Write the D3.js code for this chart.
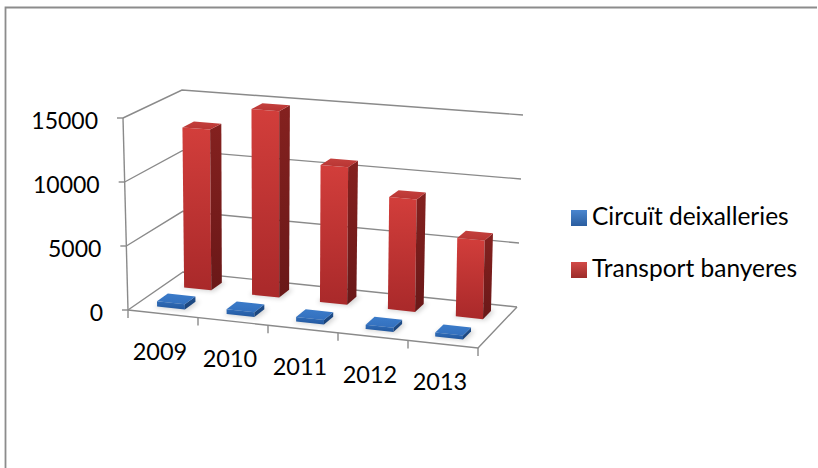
<!DOCTYPE html>
<html>
<head>
<meta charset="utf-8">
<script src="https://cdn.jsdelivr.net/npm/d3@7"></script>
<style>
  html, body { margin: 0; padding: 0; background: #fff; }
  svg { display: block; }
  text { font-family: Lato, "Open Sans", sans-serif; fill: #000; }
</style>
</head>
<body>
<svg id="chart" width="818" height="468"></svg>
<script>
// ---- data ----
const categories = ["2009", "2010", "2011", "2012", "2013"];
const seriesNames = ["Circuït deixalleries", "Transport banyeres"];
const circuitValues = [420, 380, 350, 330, 300];
const transportValues = [12900, 14800, 10800, 8750, 6050];
const yTickValues = [0, 5000, 10000, 15000];

// ---- layout (3D box corners on screen) ----
const floorC = { FL: [128, 310], BL: [183, 272], BR: [517, 307], FR: [478, 348] };
const heightV = { FL: [-5, -192], BL: [-1, -182], BR: [6, -192], FR: [2, -202] };

function bil(q, u, w) {
  const f = (k) => (1 - u) * (1 - w) * q.FL[k] + u * (1 - w) * q.FR[k] + (1 - u) * w * q.BL[k] + u * w * q.BR[k];
  return [f(0), f(1)];
}
function P(u, w, v) {
  const b = bil(floorC, u, w), h = bil(heightV, u, w);
  return [b[0] + v * h[0], b[1] + v * h[1]];
}

const x = d3.scaleBand().domain(categories).range([0, 1]).paddingInner(0.6).paddingOuter(0.3);
const z = d3.scaleBand().domain(seriesNames).range([0, 1]).paddingInner(0.6).paddingOuter(0.3);
const y = d3.scaleLinear().domain([0, 15000]).range([0, 1]);

const svg = d3.select("#chart");
const defs = svg.append("defs");

function grad(id, c1, c2) {
  const g = defs.append("linearGradient").attr("id", id).attr("x1", 0).attr("y1", 0).attr("x2", 0).attr("y2", 1);
  g.append("stop").attr("offset", "0%").attr("stop-color", c1);
  g.append("stop").attr("offset", "100%").attr("stop-color", c2);
}
grad("redFront", "#d23e3b", "#a9292a");
grad("redSide", "#84211f", "#6a1818");
grad("redTop", "#c4403d", "#b83533");
grad("blueFront", "#2f6cb8", "#23589e");
grad("blueSide", "#1f4f8c", "#1a4278");
grad("blueTop", "#3b7bc9", "#3370be");
grad("legBlue", "#4a86cf", "#2a5d9f");
grad("legRed", "#d24a47", "#9c2b29");

const blur = defs.append("filter").attr("id", "shadow").attr("x", "-50%").attr("y", "-50%").attr("width", "200%").attr("height", "200%");
blur.append("feGaussianBlur").attr("stdDeviation", 2.5);

// frame
svg.append("path").attr("d", "M5.5,468 V7.5 H817").attr("fill", "none").attr("stroke", "#8c8c8c").attr("stroke-width", 1.8);

const line = d3.line();
const gridColor = "#8a8a8a";

// gridlines: side wall + back wall
svg.append("g").selectAll("path").data(yTickValues).join("path")
  .attr("d", t => line([P(0, 0, y(t)), P(0, 1, y(t)), P(1, 1, y(t))]))
  .attr("fill", "none").attr("stroke", gridColor).attr("stroke-width", 1.4);

// floor front and right edge
svg.append("path").attr("d", line([P(0, 0, 0), P(1, 0, 0), P(1, 1, 0)]))
  .attr("fill", "none").attr("stroke", gridColor).attr("stroke-width", 1.4);

// vertical axis
svg.append("path").attr("d", line([P(0, 0, 0), P(0, 0, 1)]))
  .attr("fill", "none").attr("stroke", gridColor).attr("stroke-width", 1.4);

// y ticks
svg.append("g").selectAll("path").data(yTickValues).join("path")
  .attr("d", t => { const p = P(0, 0, y(t)); return line([[p[0] - 6, p[1]], p]); })
  .attr("fill", "none").attr("stroke", gridColor).attr("stroke-width", 1.4);

// category ticks (boundaries)
const step = x.step();
const boundaries = d3.range(categories.length + 1).map(i => i * step);
svg.append("g").selectAll("path").data(boundaries).join("path")
  .attr("d", u => { const p = P(u, 0, 0); return line([p, [p[0], p[1] + 8]]); })
  .attr("fill", "none").attr("stroke", gridColor).attr("stroke-width", 1.4);

// y labels
svg.append("g").selectAll("text").data(yTickValues).join("text")
  .attr("x", t => P(0, 0, y(t))[0] - 25)
  .attr("y", t => P(0, 0, y(t))[1] + 2)
  .attr("text-anchor", "end").attr("dominant-baseline", "central")
  .attr("font-size", 23)
  .text(t => t);

// category labels
svg.append("g").selectAll("text").data(categories).join("text")
  .attr("x", c => P(x(c) + x.bandwidth() / 2, 0, 0)[0] - 3)
  .attr("y", c => P(x(c) + x.bandwidth() / 2, 0, 0)[1] + 46)
  .attr("text-anchor", "middle")
  .attr("font-size", 23.5)
  .text(c => c);

// bars
const seriesData = [
  { name: seriesNames[1], values: transportValues, cls: "red" },
  { name: seriesNames[0], values: circuitValues, cls: "blue" }
]; // back row first

seriesData.forEach(s => {
  const g = svg.append("g");
  const items = categories.map((c, i) => ({ c, v: s.values[i] }));
  const w0 = z(s.name), w1 = w0 + z.bandwidth();
  // shadows
  g.selectAll("path.sh").data(items).join("path").attr("class", "sh")
    .attr("d", d => {
      const u0 = x(d.c), u1 = u0 + x.bandwidth();
      return line([P(u0 - 0.005, w0 - 0.02, 0), P(u1 + 0.01, w0 - 0.02, 0), P(u1 + 0.01, w1 + 0.02, 0), P(u0 - 0.005, w1 + 0.02, 0)]) + "Z";
    })
    .attr("fill", "#000").attr("opacity", 0.18).attr("filter", "url(#shadow)");
  const bars = g.selectAll("g.bar").data(items).join("g").attr("class", "bar");
  bars.append("path")
    .attr("d", d => {
      const u0 = x(d.c), u1 = u0 + x.bandwidth(), v = y(d.v);
      return line([P(u0, w0, 0), P(u1, w0, 0), P(u1, w0, v), P(u0, w0, v)]) + "Z";
    })
    .attr("fill", `url(#${s.cls}Front)`);
  bars.append("path")
    .attr("d", d => {
      const u0 = x(d.c), u1 = u0 + x.bandwidth(), v = y(d.v);
      return line([P(u1, w0, 0), P(u1, w1, 0), P(u1, w1, v), P(u1, w0, v)]) + "Z";
    })
    .attr("fill", `url(#${s.cls}Side)`);
  bars.append("path")
    .attr("d", d => {
      const u0 = x(d.c), u1 = u0 + x.bandwidth(), v = y(d.v);
      return line([P(u0, w0, v), P(u1, w0, v), P(u1, w1, v), P(u0, w1, v)]) + "Z";
    })
    .attr("fill", `url(#${s.cls}Top)`);
});

// legend
const legend = [
  { name: seriesNames[0], fill: "url(#legBlue)" },
  { name: seriesNames[1], fill: "url(#legRed)" }
];
const lg = svg.append("g").selectAll("g").data(legend).join("g")
  .attr("transform", (d, i) => `translate(571, ${210 + i * 52})`);
lg.append("rect").attr("width", 16).attr("height", 16).attr("fill", d => d.fill);
lg.append("text").attr("x", 21).attr("y", 14.5).attr("font-size", 24.5).text(d => d.name);
</script>
</body>
</html>
